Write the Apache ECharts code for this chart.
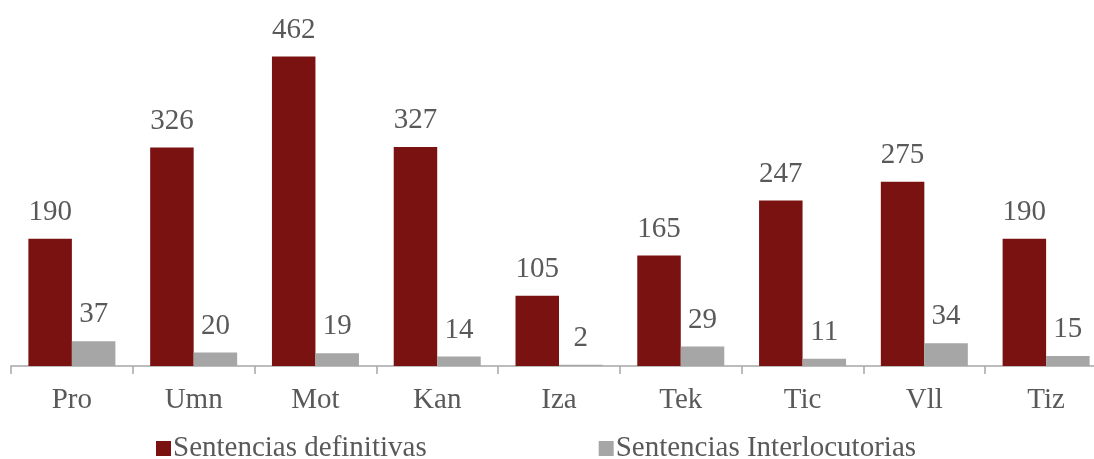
<!DOCTYPE html>
<html>
<head>
<meta charset="utf-8">
<script src="https://cdn.jsdelivr.net/npm/echarts@6/dist/echarts.min.js"></script>
<style>
html,body{margin:0;padding:0;background:#fff;}
#chart{width:1094px;height:459px;}
</style>
</head>
<body>
<div id="chart"></div>
<script>
const categories = ['Pro', 'Umn', 'Mot', 'Kan', 'Iza', 'Tek', 'Tic', 'Vll', 'Tiz'];
const definitivas = [190, 326, 462, 327, 105, 165, 247, 275, 190];
const interlocutorias = [37, 20, 19, 14, 2, 29, 11, 34, 15];
const seriesNames = ['Sentencias definitivas', 'Sentencias Interlocutorias'];

const FONT = '"Liberation Serif", "DejaVu Serif", serif';
const TEXT = '#595959';

const chart = echarts.init(document.getElementById('chart'), null, {renderer: 'canvas'});
chart.setOption({
  animation: false,
  backgroundColor: '#fff',
  textStyle: {fontFamily: FONT},
  grid: {left: 11, width: 1096, top: 31, height: 335, containLabel: false, outerBoundsMode: 'none'},
  legend: {
    left: 151, top: 429,
    itemWidth: 15, itemHeight: 15, itemGap: 172,
    icon: 'rect',
    textStyle: {fontFamily: FONT, fontSize: 29, color: TEXT, padding: [0, 0, 0, -3]},
    data: seriesNames
  },
  xAxis: {
    type: 'category',
    data: categories,
    axisLine: {lineStyle: {color: '#A6A6A6', width: 1.5}},
    axisTick: {show: true, length: 8, lineStyle: {color: '#A6A6A6', width: 1.5}},
    axisLabel: {fontFamily: FONT, fontSize: 29, color: TEXT, margin: 20}
  },
  yAxis: {
    type: 'value', min: 0, max: 500, show: false,
    splitLine: {show: false}
  },
  series: [
    {
      name: seriesNames[0], type: 'bar', data: definitivas,
      barWidth: 43.5, barGap: '0%',
      itemStyle: {color: '#7B1212'},
      label: {show: true, position: 'top', distance: 12, fontFamily: FONT, fontSize: 29, color: TEXT}
    },
    {
      name: seriesNames[1], type: 'bar', data: interlocutorias,
      barWidth: 43.5, barGap: '0%',
      itemStyle: {color: '#A6A6A6'},
      label: {show: true, position: 'top', distance: 12, fontFamily: FONT, fontSize: 29, color: TEXT}
    }
  ]
});
</script>
</body>
</html>
